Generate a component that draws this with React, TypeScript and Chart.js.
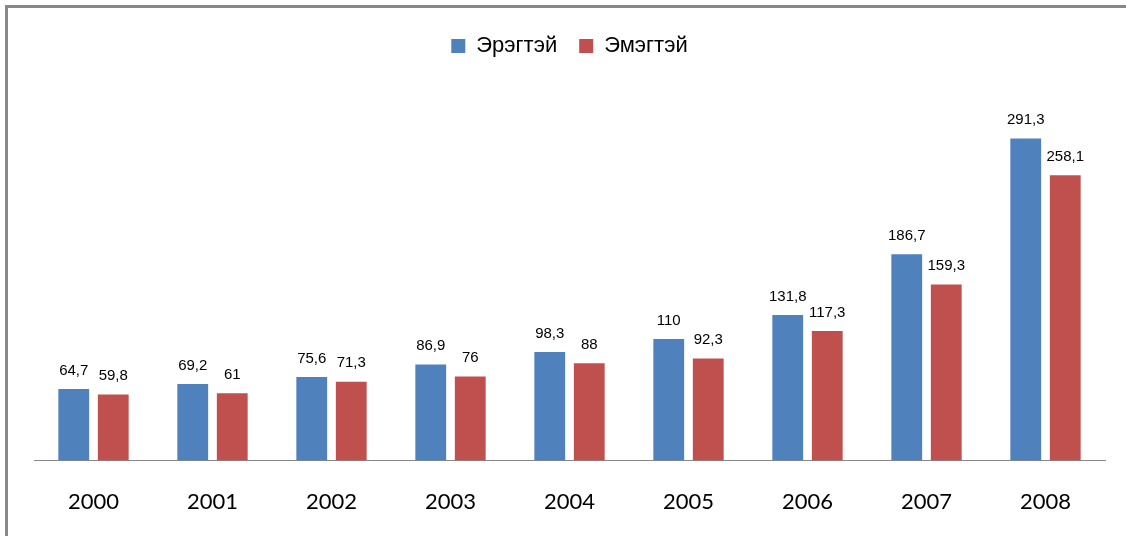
import React, { useEffect, useRef } from "react";
import { Chart, registerables } from "chart.js";

Chart.register(...registerables);

const categories = ["2000", "2001", "2002", "2003", "2004", "2005", "2006", "2007", "2008"];
const seriesNames = ["Эрэгтэй", "Эмэгтэй"];
const maleValues = [64.7, 69.2, 75.6, 86.9, 98.3, 110, 131.8, 186.7, 291.3];
const femaleValues = [59.8, 61, 71.3, 76, 88, 92.3, 117.3, 159.3, 258.1];
const seriesColors = ["#4F81BD", "#C0504D"];

const valueLabelPlugin = {
  id: "valueLabels",
  afterDatasetsDraw(chart: any) {
    const ctx = chart.ctx;
    ctx.save();
    ctx.font = "15px 'Liberation Sans', Arial, sans-serif";
    ctx.fillStyle = "#000";
    ctx.textAlign = "center";
    ctx.textBaseline = "bottom";
    chart.data.datasets.forEach((ds: any, i: number) => {
      const meta = chart.getDatasetMeta(i);
      meta.data.forEach((el: any, j: number) => {
        const v = ds.data[j];
        const txt = String(v).replace(".", ",");
        ctx.fillText(txt, el.x, el.y - 11);
      });
    });
    ctx.restore();
  },
};

export default function App() {
  const canvasRef = useRef<HTMLCanvasElement | null>(null);

  useEffect(() => {
    if (!canvasRef.current) return;
    const chart = new Chart(canvasRef.current, {
      type: "bar",
      data: {
        labels: categories,
        datasets: [
          {
            label: seriesNames[0],
            data: maleValues,
            backgroundColor: seriesColors[0],
            categoryPercentage: 0.664,
            barPercentage: 0.78,
          },
          {
            label: seriesNames[1],
            data: femaleValues,
            backgroundColor: seriesColors[1],
            categoryPercentage: 0.664,
            barPercentage: 0.78,
          },
        ],
      },
      options: {
        responsive: false,
        animation: false,
        devicePixelRatio: 1,
        layout: { padding: { left: 34, right: 21, top: 13, bottom: -7 } },
        plugins: {
          legend: {
            display: true,
            position: "top",
            labels: {
              boxWidth: 14,
              boxHeight: 14,
              padding: 22,
              color: "#000",
              font: { family: "'Liberation Sans', Arial, sans-serif", size: 22 },
            },
          },
          tooltip: { enabled: false },
        },
        scales: {
          x: {
            grid: { display: false, drawTicks: false },
            border: { display: true, color: "#888", width: 1 },
            ticks: {
              color: "#000",
              padding: 28,
              font: { family: "Lato, 'Open Sans', sans-serif", size: 22 },
            },
          },
          y: {
            display: false,
            min: 0,
            max: 356,
          },
        },
      },
      plugins: [valueLabelPlugin],
    });
    return () => chart.destroy();
  }, []);

  return (
    <div
      style={{
        position: "fixed",
        left: 0,
        top: 0,
        width: 1126,
        height: 536,
        overflow: "hidden",
        background: "#fff",
      }}
    >
      <div
        style={{
          position: "absolute",
          left: 5,
          top: 5,
          width: 1200,
          height: 600,
          borderLeft: "3px solid #888",
          borderTop: "3px solid #888",
        }}
      />
      <canvas
        ref={canvasRef}
        width={1126}
        height={536}
        style={{ position: "absolute", left: 0, top: 0, width: 1126, height: 536 }}
      />
    </div>
  );
}
